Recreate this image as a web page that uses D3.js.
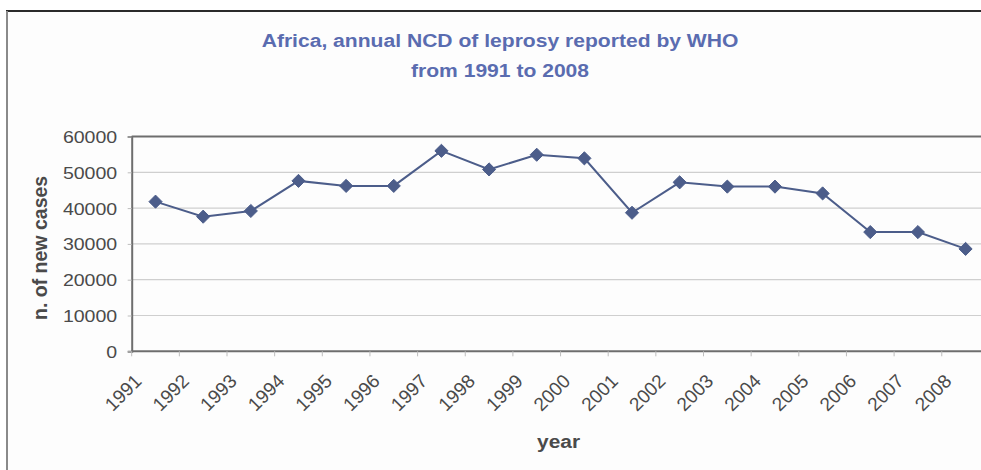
<!DOCTYPE html>
<html>
<head>
<meta charset="utf-8">
<script src="https://cdn.jsdelivr.net/npm/d3@7"></script>
<style>
  html, body { margin: 0; padding: 0; background: #ffffff; }
  svg { display: block; }
  text { font-family: "Liberation Sans", Arial, sans-serif; }
</style>
</head>
<body>
<svg id="chart" width="981" height="470"></svg>
<script>
const years = ["1991","1992","1993","1994","1995","1996","1997","1998","1999","2000","2001","2002","2003","2004","2005","2006","2007","2008"];
const newCases = [41800, 37600, 39200, 47600, 46200, 46200, 56000, 50800, 54900, 53900, 38700, 47200, 46000, 46000, 44100, 33300, 33300, 28600];
const yTicks = [0, 10000, 20000, 30000, 40000, 50000, 60000];
const titleLines = ["Africa, annual NCD of leprosy reported by WHO", "from 1991 to 2008"];
const yTitle = "n. of new cases";
const xTitle = "year";

const svg = d3.select("#chart");
const W = 981, H = 470;
const plot = { left: 131.7, right: 989.4, top: 136.5, bottom: 351.3 };
const sx = 1.15; // horizontal stretch of the reference lettering
const textColor = "#4a4a4a";

// background + border
svg.append("rect").attr("x", 7).attr("y", 11).attr("width", W).attr("height", H).attr("fill", "#fdfdfd");
svg.append("line").attr("x1", 6).attr("x2", W).attr("y1", 11).attr("y2", 11).attr("stroke", "#2a2a2a").attr("stroke-width", 2);
svg.append("line").attr("x1", 7).attr("x2", 7).attr("y1", 11).attr("y2", H).attr("stroke", "#8a8a8a").attr("stroke-width", 2);

const x = d3.scaleBand().domain(years).range([plot.left, plot.right]).paddingInner(0).paddingOuter(0);
const y = d3.scaleLinear().domain([0, 60000]).range([plot.bottom, plot.top]);

// gridlines
svg.append("g").selectAll("line").data(yTicks.filter(d => d > 0 && d < 60000)).join("line")
  .attr("x1", plot.left).attr("x2", plot.right)
  .attr("y1", d => y(d)).attr("y2", d => y(d))
  .attr("stroke", "#cfcfcf").attr("stroke-width", 1.2);

// y axis
const yAxis = d3.axisLeft(y).tickValues(yTicks).tickSize(4).tickFormat(d3.format("d"));
const gy = svg.append("g").attr("transform", `translate(${plot.left},0)`).call(yAxis);
gy.select(".domain").attr("stroke", "#6e6e6e").attr("stroke-width", 2);
gy.selectAll(".tick line").attr("stroke", "#bdbdbd");
gy.selectAll(".tick text")
  .attr("x", null).attr("dy", null)
  .attr("transform", `translate(-14.5,6) scale(${sx},1)`)
  .attr("fill", textColor).style("font-size", "17px").style("font-family", "'Liberation Sans', Arial, sans-serif");

// top frame line
svg.append("line").attr("x1", plot.left).attr("x2", plot.right).attr("y1", y(60000)).attr("y2", y(60000))
  .attr("stroke", "#6e6e6e").attr("stroke-width", 2);

// x axis (ticks between categories)
const gx = svg.append("g").attr("transform", `translate(0,${plot.bottom})`);
gx.append("line").attr("x1", plot.left).attr("x2", plot.right).attr("stroke", "#6e6e6e").attr("stroke-width", 2);
gx.selectAll("line.tk").data(years).join("line").attr("class", "tk")
  .attr("x1", d => x(d)).attr("x2", d => x(d)).attr("y1", 0).attr("y2", 5)
  .attr("stroke", "#bdbdbd").attr("stroke-width", 1);
gx.selectAll("text").data(years).join("text")
  .attr("transform", d => `translate(${x(d) + x.bandwidth() * 0.23},${31}) rotate(-45)`)
  .attr("text-anchor", "end")
  .attr("fill", textColor).style("font-size", "19px")
  .text(d => d);

// line + markers
const lineColor = "#4c5d8a";
const pts = years.map((yr, i) => ({ yr, v: newCases[i] }));
svg.append("path").datum(pts)
  .attr("d", d3.line().x(d => x(d.yr) + x.bandwidth() / 2).y(d => y(d.v)))
  .attr("fill", "none").attr("stroke", lineColor).attr("stroke-width", 2);
svg.append("g").selectAll("path").data(pts).join("path")
  .attr("d", d3.symbol().type(d3.symbolDiamond2).size(110))
  .attr("transform", d => `translate(${x(d.yr) + x.bandwidth() / 2},${y(d.v)})`)
  .attr("fill", lineColor).attr("stroke", lineColor).attr("stroke-width", 1);

// titles
svg.append("g").selectAll("text").data(titleLines).join("text")
  .attr("transform", (d, i) => `translate(500,${47 + i * 30}) scale(1.11,1)`)
  .attr("text-anchor", "middle").attr("fill", "#5a6cb0")
  .style("font-size", "19px").style("font-weight", "bold")
  .text(d => d);

svg.append("text")
  .attr("transform", `translate(47,${(plot.top + plot.bottom) / 2 + 4}) rotate(-90)`)
  .attr("text-anchor", "middle").attr("fill", textColor)
  .style("font-size", "19.5px").style("font-weight", "bold")
  .text(yTitle);

svg.append("text")
  .attr("transform", `translate(${(plot.left + plot.right) / 2 - 2},448) scale(1.16,1)`)
  .attr("text-anchor", "middle").attr("fill", textColor)
  .style("font-size", "18px").style("font-weight", "bold")
  .text(xTitle);
</script>
</body>
</html>
